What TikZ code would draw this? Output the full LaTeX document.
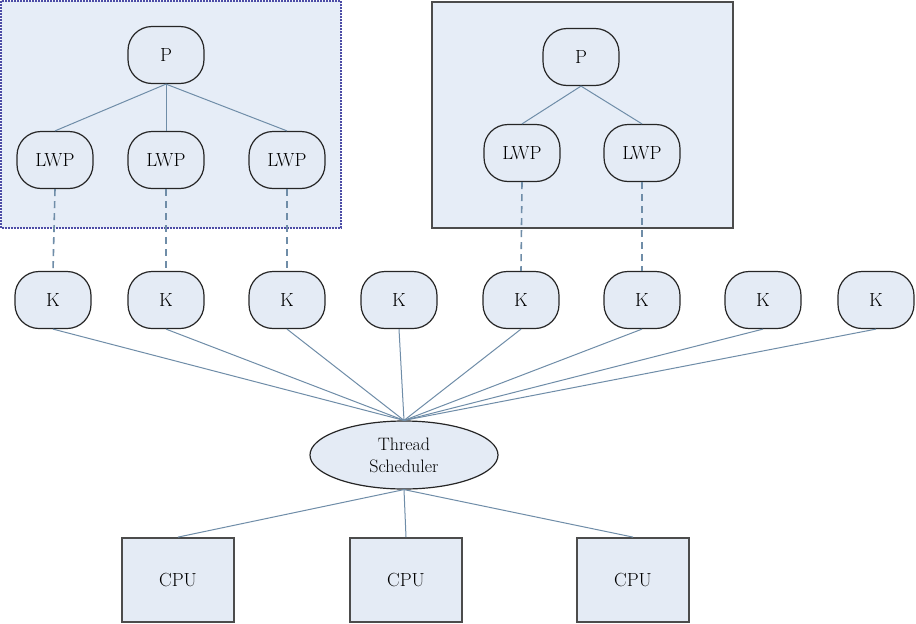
\documentclass[tikz,border=0pt]{standalone}
\usetikzlibrary{shapes.geometric}
\begin{document}
\begin{tikzpicture}[x=1pt,y=-1pt,
  ln/.style={draw=lc,line width=1pt},
  rnd/.style={draw=black!85,line width=1.2pt,fill=nf,rounded corners=24pt,minimum width=76pt,minimum height=57pt,inner sep=0pt,font=\fontsize{19}{19}\selectfont},
  cpu/.style={draw=black!70,line width=1.8pt,fill=nf,minimum width=112pt,minimum height=84pt,inner sep=0pt,font=\fontsize{19}{19}\selectfont}]
\definecolor{lc}{HTML}{6F8DA8}
\definecolor{nf}{HTML}{E4EBF5}
\definecolor{bf}{HTML}{E6EDF7}
\useasboundingbox (0,0) rectangle (916,624);
\fill[white] (0,0) rectangle (916,624);
\draw[fill=bf,draw=blue!50!black!70,densely dotted,line width=2pt] (1,1) rectangle (341,228);
\draw[fill=bf,draw=black!70,line width=1.8pt] (432,2) rectangle (733,228);
\node[rnd] (p1) at (166,55) {P};
\node[rnd] (l1) at (55,160) {LWP};
\node[rnd] (l2) at (166,160) {LWP};
\node[rnd] (l3) at (287,160) {LWP};
\node[rnd] (p2) at (581,57) {P};
\node[rnd] (l4) at (522,153) {LWP};
\node[rnd] (l5) at (642,153) {LWP};
\foreach \i/\x in {1/53,2/166,3/287,4/399,5/521,6/642,7/763,8/876}
  \node[rnd] (k\i) at (\x,300) {K};
\node[ellipse,draw=black!85,line width=1.2pt,fill=nf,minimum width=188pt,minimum height=68pt,inner sep=0pt,align=center,font=\fontsize{18}{22}\selectfont] (ts) at (404,455) {Thread\\Scheduler};
\node[cpu] (c1) at (178,580) {CPU};
\node[cpu] (c2) at (406,580) {CPU};
\node[cpu] (c3) at (633,580) {CPU};
\foreach \l in {l1,l2,l3} \draw[ln] (p1.south) -- (\l.north);
\foreach \l in {l4,l5} \draw[ln] (p2.south) -- (\l.north);
\foreach \l/\k in {l1/k1,l2/k2,l3/k3,l4/k5,l5/k6} \draw[ln,dash pattern=on 7pt off 5pt,line width=1.6pt] (\l.south) -- (\k.north);
\foreach \i in {1,...,8} \draw[ln] (k\i.south) -- (ts.north);
\foreach \c in {c1,c2,c3} \draw[ln] (ts.south) -- (\c.north);
\end{tikzpicture}
\end{document}
